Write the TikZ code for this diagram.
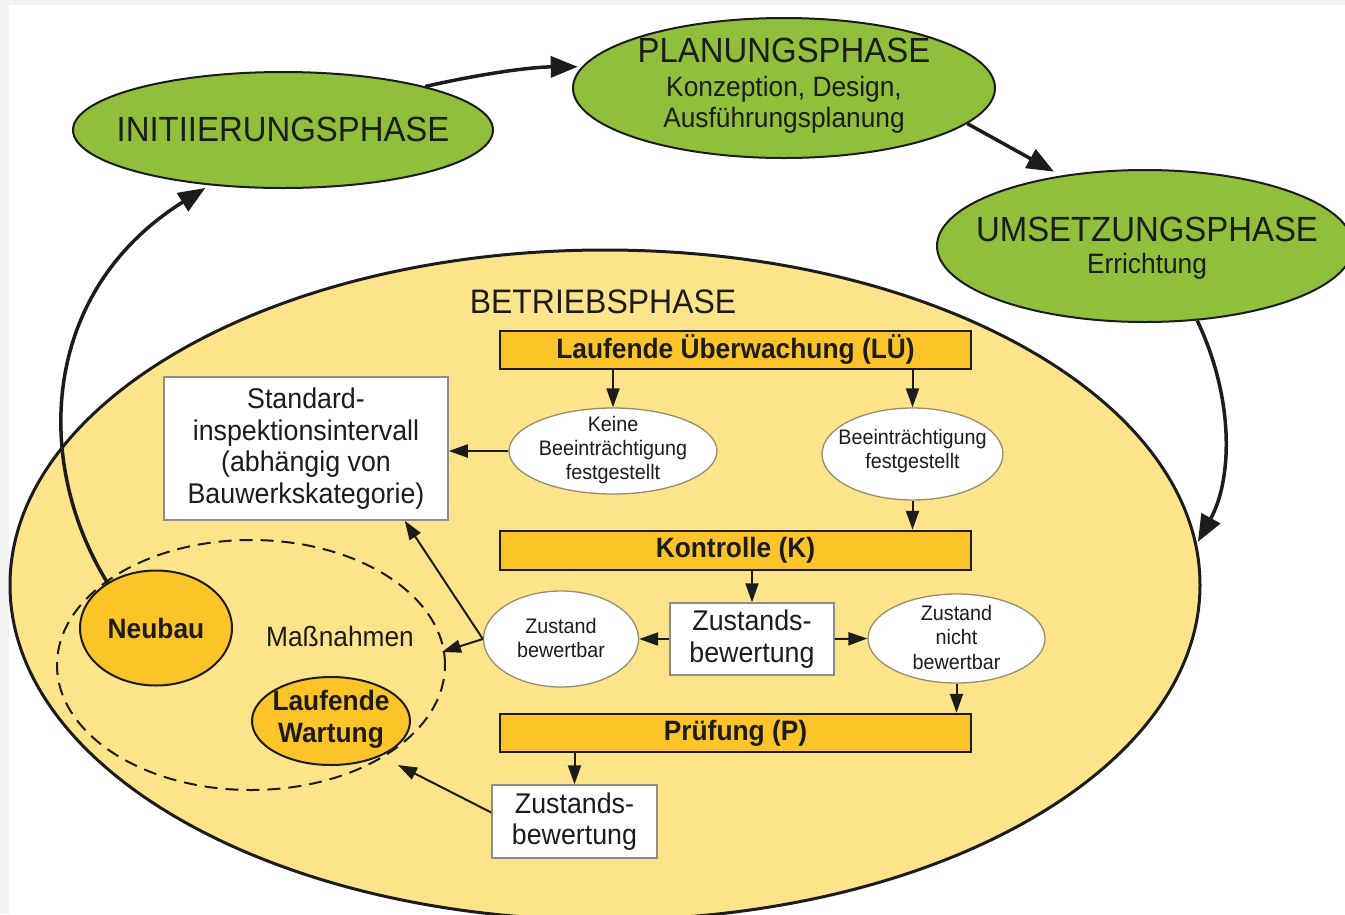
\documentclass[tikz,border=0pt]{standalone}
\usepackage{fontspec}
\setmainfont{Liberation Sans}[FakeStretch=0.94]
\usetikzlibrary{shapes.geometric,arrows.meta,calc}
\definecolor{bggray}{RGB}{241,243,243}
\definecolor{phgreen}{RGB}{143,191,59}
\definecolor{lightyel}{RGB}{253,228,138}
\definecolor{orangeY}{RGB}{252,196,40}
\definecolor{ink}{RGB}{28,28,28}
\definecolor{boxline}{RGB}{140,140,140}
\definecolor{ellline}{RGB}{150,140,110}
\newcommand\fTitle{\fontsize{35}{40}\selectfont}
\newcommand\fSub{\fontsize{28}{32}\selectfont}
\newcommand\fBox{\fontsize{28.5}{31.7}\selectfont}
\newcommand\fSmall{\fontsize{21}{24}\selectfont}
\tikzset{
  phase/.style={ellipse, draw=ink, line width=2pt, fill=phgreen, inner sep=0pt},
  bigell/.style={ellipse, draw=ink, line width=3pt, fill=lightyel, inner sep=0pt},
  dell/.style={ellipse, draw=ink, line width=2pt, dash pattern=on 13pt off 8pt, inner sep=0pt},
  bar/.style={rectangle, draw=ink, line width=2.5pt, fill=orangeY, minimum width=471pt, minimum height=38pt, inner sep=0pt, font=\fSub\bfseries, text=ink},
  wbox/.style={rectangle, draw=boxline, line width=1.5pt, fill=white, inner sep=0pt, align=center, font=\fBox, text=ink},
  well/.style={ellipse, draw=ellline, line width=1.3pt, fill=white, inner sep=0pt},
  oell/.style={ellipse, draw=ink, line width=2pt, fill=orangeY, inner sep=0pt},
  txt/.style={inner sep=0pt, align=center, text=ink},
  arr/.style={draw=ink, line width=2pt, -{Triangle[length=19pt,width=13pt]}},
  bigarr/.style={draw=ink, line width=3.5pt, -{Triangle[length=27pt,width=21pt]}},
}
\begin{document}
\begin{tikzpicture}[x=1pt,y=-1pt]
\useasboundingbox (0,0) rectangle (1345,914);
\clip (0,0) rectangle (1345,914);
\fill[bggray] (0,0) rectangle (1345,914);
\fill[white] (9,5) rectangle (1345,914);

% big operating-phase ellipse
\node[bigell, minimum width=1190pt, minimum height=670pt] (betr) at (605,585) {};
\node[txt, anchor=base, font=\fontsize{34}{40}\selectfont] (betrT) at (603,313) {BETRIEBSPHASE};

% phase ellipses
\node[phase, minimum width=420pt, minimum height=116pt] (init) at (283,130) {};
\node[txt, anchor=base, font=\fTitle] (initT) at (283,141) {INITIIERUNGSPHASE};

\node[phase, minimum width=422pt, minimum height=140pt] (plan) at (784,88) {};
\node[txt, anchor=base, font=\fTitle] (planT1) at (784,62) {PLANUNGSPHASE};
\node[txt, anchor=base, font=\fSub] (planT2) at (784,96) {Konzeption, Design,};
\node[txt, anchor=base, font=\fSub] (planT3) at (784,127) {Ausführungsplanung};

\node[phase, minimum width=416pt, minimum height=152pt] (umset) at (1145,246) {};
\node[txt, anchor=base, font=\fTitle] (umsetT1) at (1147,241) {UMSETZUNGSPHASE};
\node[txt, anchor=base, font=\fSub] (umsetT2) at (1147,273) {Errichtung};

% bars
\node[bar] (lu) at (735.5,350) {Laufende Überwachung (LÜ)};
\node[bar, minimum height=39pt] (kon) at (735.5,550.5) {Kontrolle (K)};
\node[bar] (pr) at (735.5,733) {Prüfung (P)};

% white boxes
\node[wbox, minimum width=284pt, minimum height=143pt] (std) at (306,448.5)
  {Standard-\\inspektionsintervall\\(abhängig von\\Bauwerkskategorie)};
\node[wbox, minimum width=164pt, minimum height=72pt] (zm) at (752,639) {Zustands-\\bewertung};
\node[wbox, minimum width=165pt, minimum height=73pt] (zb2) at (574.5,821.5) {Zustands-\\bewertung};

% white ellipses
\node[well, minimum width=208pt, minimum height=86pt] (keine) at (613,451) {};
\node[txt, font=\fSmall] (keineT) at (613,450) {Keine\\Beeinträchtigung\\festgestellt};
\node[well, minimum width=181pt, minimum height=92pt] (beein) at (912.5,454) {};
\node[txt, font=\fSmall] (beeinT) at (912.5,451) {Beeinträchtigung\\festgestellt};
\node[well, minimum width=155pt, minimum height=96pt] (zb) at (561,639) {};
\node[txt, font=\fSmall] (zbT) at (561,638) {Zustand\\bewertbar};
\node[well, minimum width=177pt, minimum height=89pt] (znb) at (956.5,638.5) {};
\node[txt, font=\fontsize{21}{24.5}\selectfont] (znbT) at (956.5,637) {Zustand\\nicht\\bewertbar};

% measures group
\node[dell, minimum width=388pt, minimum height=250pt] (mass) at (251,665) {};
\node[txt, font=\fSub] (massT) at (340,636) {Maßnahmen};
\node[oell, minimum width=152pt, minimum height=115pt] (neu) at (156,628) {};
\node[txt, font=\fSub\bfseries] (neuT) at (156,628) {Neubau};
\node[oell, minimum width=158pt, minimum height=88pt] (wart) at (331,721) {};
\node[txt, font=\fSub\bfseries] (wartT) at (331,719) {Laufende\\Wartung};

\coordinate (massIn) at (442,652);
\coordinate (massIn2) at (398,765);

% internal arrows
\draw[arr] (keine |- lu.south) -- (keine.north);
\draw[arr] (beein |- lu.south) -- (beein.north);
\draw[arr] (keine.west) -- (keine.west -| std.east);
\draw[arr] (beein.south) -- (beein.south |- kon.north);
\draw[arr] (zm |- kon.south) -- (zm.north);
\draw[arr] (zm.west) -- (zb.east);
\draw[arr] (zm.east) -- (znb.west);
\draw[arr] (znb.south) -- (znb.south |- pr.north);
\draw[arr] (zb2 |- pr.south) -- (zb2.north);
\draw[arr] (zb.west) -- ([xshift=-44pt]std.south east);
\draw[arr] (zb.west) -- (massIn);
\draw[arr] ([yshift=9pt]zb2.west) -- (massIn2);

% phase cycle arrows
\draw[bigarr, shorten >=4pt] (init.17) .. controls (480,74) and (530,67) .. (plan.174);
\draw[bigarr, shorten >=8pt] (plan.-11) -- (umset.140);
\draw[bigarr, shorten >=2pt] (umset.-55) .. controls (1235,400) and (1232,480) .. (betr.4);
\draw[bigarr, shorten >=5pt] (neu.137) .. controls (32,460) and (42,290) .. (init.217);
\end{tikzpicture}
\end{document}
